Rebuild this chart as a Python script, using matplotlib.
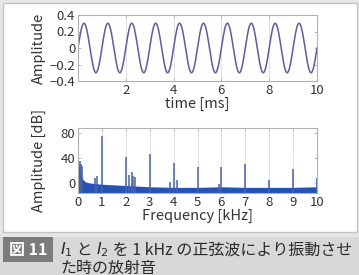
import numpy as np
import matplotlib
matplotlib.use("Agg")
import matplotlib.pyplot as plt
from matplotlib.patches import Rectangle
from matplotlib.offsetbox import TextArea, HPacker, AnnotationBbox

plt.rcParams['font.family'] = ['Noto Sans CJK JP', 'DejaVu Sans']

# ---- data ----
sine_amplitude = 0.3
sine_freq_khz = 1.0
time_ticks = [2, 4, 6, 8, 10]
amp_ticks = [-0.4, -0.2, 0, 0.2, 0.4]
amp_ticklabels = ['\u22120.4', '\u22120.2', '0', '0.2', '0.4']

band_freq = [0, 0.03, 0.06, 0.1, 0.15, 0.2, 0.3, 0.5, 1.0, 1.5, 2.0, 3.0, 4.0, 5.0, 6.0, 7.0, 8.0, 9.0, 10.0]
band_top = [40, 32, 24, 17, 11, 6, 2, 0, -2, -3, -4, -6, -7, -7, -6, -7, -7, -7, -6]

peak_freq = [0.08, 0.12, 0.17, 0.7, 0.8, 1.0, 2.0, 2.15, 2.25, 2.32, 2.4, 3.0,
             3.85, 4.0, 4.15, 5.0, 5.9, 6.0, 7.0, 8.0, 9.0, 10.0]
peak_db = [36, 30, 28, 8, 11, 76, 42, 13, 17, 12, 9, 46,
           2, 32, 5, 26, -1, 26, 30, 5, 22, 8]
freq_ticks = [0, 1, 2, 3, 4, 5, 6, 7, 8, 9, 10]
db_ticks = [0, 40, 80]

W, H = 359, 275
fig = plt.figure(figsize=(W / 100, H / 100), dpi=100)
fig.patch.set_facecolor('#e6e6e6')

def fx(px):
    return px / W

def fy(py):
    return 1 - py / H

# white panel
fig.patches.append(Rectangle((fx(3), fy(232)), fx(354), (229) / H, transform=fig.transFigure,
                             facecolor='white', edgecolor='#c4c4c4', lw=1.0, zorder=-5))
# caption bar
fig.patches.append(Rectangle((0, 0), 1, fy(237), transform=fig.transFigure,
                             facecolor='#d8d8d8', edgecolor='none', zorder=-5))
fig.patches.append(Rectangle((fx(3), fy(262)), fx(50), (25) / H, transform=fig.transFigure,
                             facecolor='#7b7b7b', edgecolor='none', zorder=-4))
fig.text(fx(28), fy(250), '図 11', color='white', fontsize=11.5, ha='center', va='center',
         fontweight='bold')

tick_color = '#333333'
spine_color = '#b0b0b0'
lab_fs = 10.5
tick_fs = 9.5

def style(ax):
    ax.set_zorder(5)
    for s in ax.spines.values():
        s.set_color(spine_color)
        s.set_linewidth(0.8)
    ax.tick_params(direction='in', length=2.5, width=0.6, color=spine_color,
                   labelsize=tick_fs, labelcolor=tick_color, pad=2, top=True, right=True)
    ax.grid(axis='x', color='#e2e2e2', lw=0.7)
    ax.set_axisbelow(True)

# ---- top axes ----
ax1 = fig.add_axes([fx(78), fy(81), fx(317 - 78), (81 - 15) / H])
t = np.linspace(0, 10, 2001)
ax1.plot(t, sine_amplitude * np.sin(2 * np.pi * sine_freq_khz * t), color='#5b5ba6', lw=1.1)
ax1.set_xlim(0, 10)
ax1.set_ylim(-0.4, 0.4)
ax1.set_xticks(time_ticks)
ax1.set_yticks(amp_ticks)
ax1.set_yticklabels(amp_ticklabels)
style(ax1)
ax1.set_xlabel('time [ms]', fontsize=lab_fs, color=tick_color, labelpad=0)
ax1.set_ylabel('Amplitude', fontsize=lab_fs, color=tick_color)

# ---- bottom axes ----
ax2 = fig.add_axes([fx(78), fy(193), fx(317 - 78), (193 - 128) / H])
ymin, ymax = -16, 88
ax2.fill_between(band_freq, ymin, band_top, color='#2454b3', lw=0, zorder=2)
ax2.vlines(peak_freq, ymin, peak_db, color='#4561ae', lw=1.1, zorder=3)
ax2.set_xlim(0, 10)
ax2.set_ylim(ymin, ymax)
ax2.set_xticks(freq_ticks)
ax2.set_yticks(db_ticks)
style(ax2)
ax2.set_xlabel('Frequency [kHz]', fontsize=lab_fs, color=tick_color, labelpad=0)
ax2.set_ylabel('Amplitude [dB]', fontsize=lab_fs, color=tick_color)
ax1.yaxis.set_label_coords(-0.135, 0.5)
ax2.yaxis.set_label_coords(-0.135, 0.5)

# ---- caption ----
cap_fs = 11.5
cap_col = '#2a2a2a'
def ta(s, **kw):
    return TextArea(s, textprops=dict(fontsize=cap_fs, color=cap_col, **kw))
line1 = HPacker(children=[
    ta('$I_1$', family='DejaVu Serif'),
    ta(' と '),
    ta('$I_2$', family='DejaVu Serif'),
    ta(' を 1 kHz の正弦波により振動させ'),
], pad=0, sep=0, align='baseline')
ab = AnnotationBbox(line1, (fx(60), fy(250)), xycoords='figure fraction',
                    box_alignment=(0, 0.5), frameon=False, pad=0)
fig.add_artist(ab)
fig.text(fx(60), fy(268), 'た時の放射音', fontsize=cap_fs, color=cap_col, ha='left', va='center')

fig.savefig('out.png', dpi=100, facecolor=fig.get_facecolor())
